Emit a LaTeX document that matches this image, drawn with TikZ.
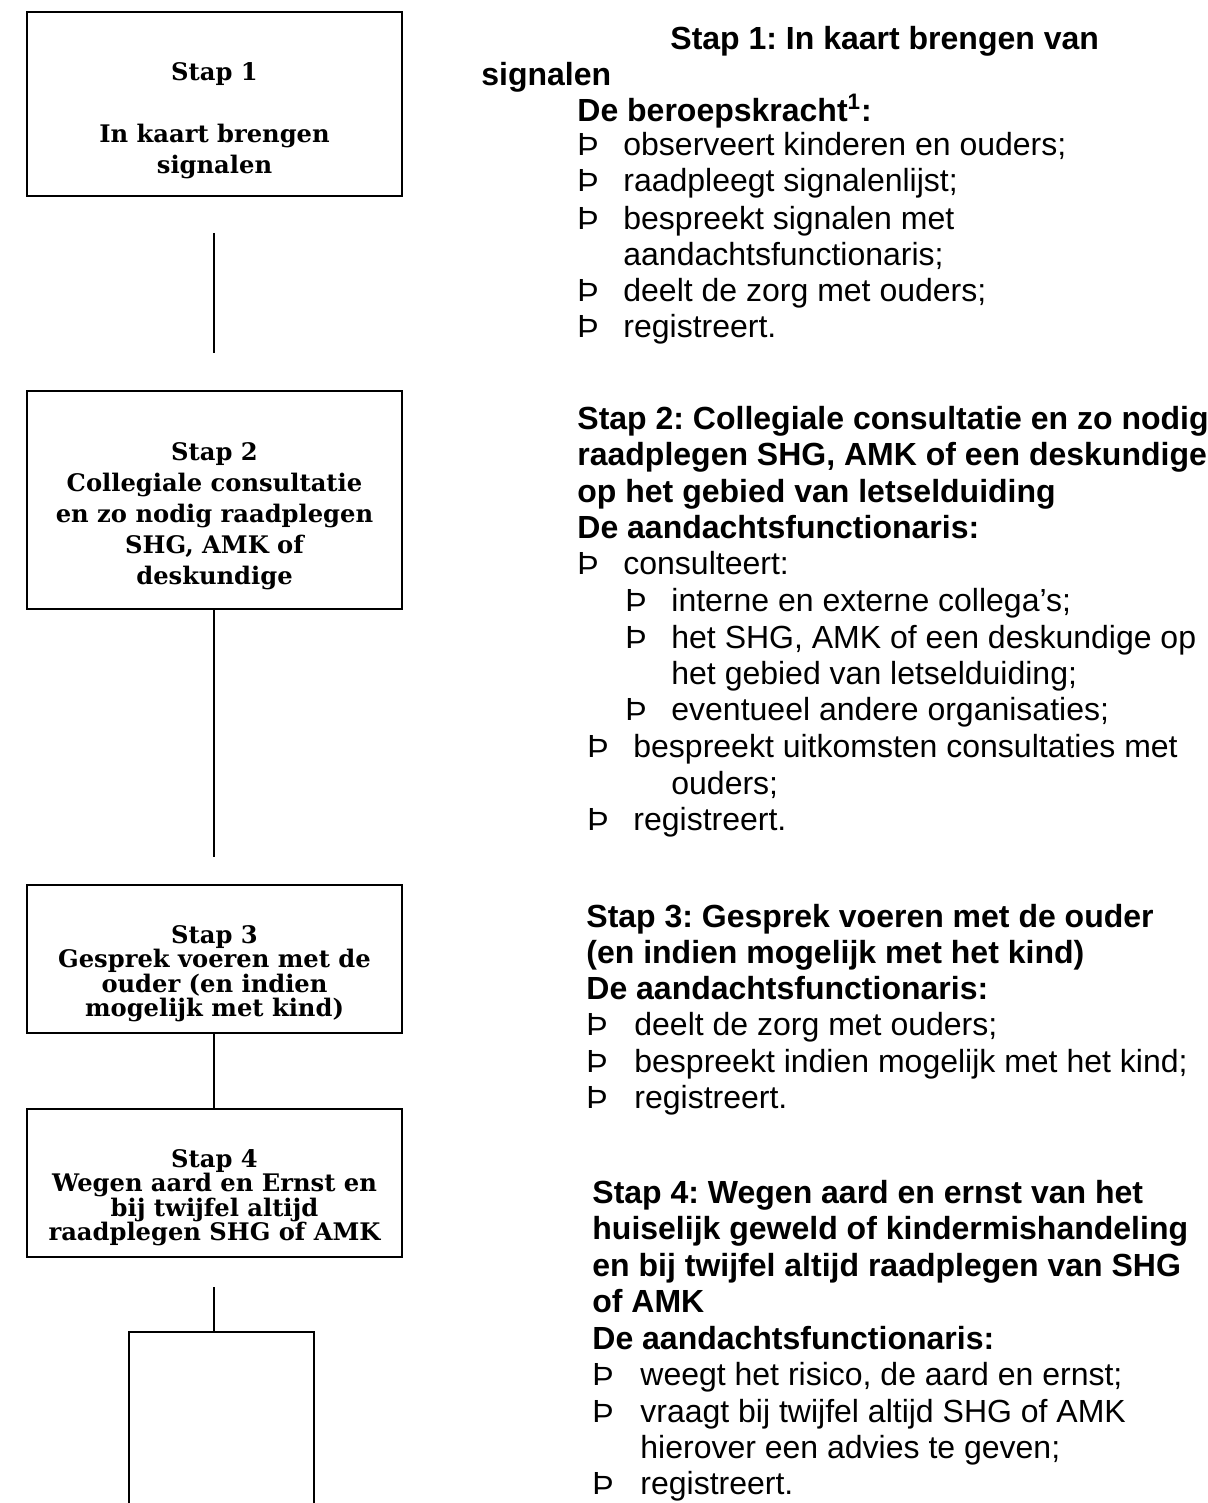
\documentclass[tikz,border=0pt]{standalone}
\usepackage{fontspec}
\setmainfont{Liberation Sans}
\newfontfamily\boxfont{DejaVu Serif}
\begin{document}
\frenchspacing
\begin{tikzpicture}[x=0.5pt,y=-0.5pt,
  stepbox/.style={draw, line width=1pt, inner sep=0pt},
  boxtxt/.style={font=\boxfont\bfseries\fontsize{12.1}{15.5}\selectfont, align=center, inner sep=0pt, anchor=north},
  boxtxtb/.style={boxtxt, font=\boxfont\bfseries\fontsize{12.1}{12.2}\selectfont},
  conn/.style={line width=0.8pt},
  hd/.style={font=\bfseries\fontsize{16}{18}\selectfont, anchor=base west, inner sep=0pt},
  tx/.style={font=\fontsize{16}{18}\selectfont, anchor=base west, inner sep=0pt},
]
\useasboundingbox (0,0) rectangle (1208,1503);
\clip (0,0) rectangle (1208,1503);
\fill[white] (0,0) rectangle (1208,1503);

% left boxes
\node[stepbox, minimum width=187.5pt, minimum height=92pt] (b1) at (214.5,104) {};
\node[stepbox, minimum width=187.5pt, minimum height=109pt] (b2) at (214.5,500) {};
\node[stepbox, minimum width=187.5pt, minimum height=74pt] (b3) at (214.5,959) {};
\node[stepbox, minimum width=187.5pt, minimum height=74pt] (b4) at (214.5,1183) {};
\node[stepbox, minimum width=92.5pt, minimum height=150pt, anchor=north] (b5) at (221.5,1331) {};

\node[boxtxt] (b1t) at (214.5,62) {Stap 1\\[15.5pt]In kaart brengen\\signalen};
\node[boxtxt] (b2t) at (214.5,442) {Stap 2\\Collegiale consultatie\\en zo nodig raadplegen\\SHG, AMK of\\deskundige};
\node[boxtxtb] (b3t) at (214.5,925) {Stap 3\\Gesprek voeren met de\\ouder (en indien\\mogelijk met kind)};
\node[boxtxtb] (b4t) at (214.5,1149) {Stap 4\\Wegen aard en Ernst en\\bij twijfel altijd\\raadplegen SHG of AMK};

% connectors
\coordinate (c1a) at (214,233);
\coordinate (c1b) at (214,353);
\coordinate (c2b) at (214,857);
\coordinate (c4a) at (214,1287);
\draw[conn] (c1a) -- (c1b);
\draw[conn] (c1a |- b2.south) -- (c2b);
\draw[conn] (c1a |- b3.south) -- (c1a |- b4.north);
\draw[conn] (c4a) -- (c4a |- b5.north);

% right column, step 1
\node[hd] (h1a) at (670,50) {Stap 1: In kaart brengen van};
\node[hd] (h1b) at (481,86) {signalen};
\node[hd] (h1c) at (577,122) {De beroepskracht\textsuperscript{1}:};
\node[tx] (p1a) at (577,156) {Þ}; \node[tx] (t1a) at (623,156) {observeert kinderen en ouders;};
\node[tx] (p1b) at (577,192) {Þ}; \node[tx] (t1b) at (623,192) {raadpleegt signalenlijst;};
\node[tx] (p1c) at (577,229) {Þ}; \node[tx] (t1c) at (623,229) {bespreekt signalen met};
\node[tx] (t1d) at (623,265) {aandachtsfunctionaris;};
\node[tx] (p1e) at (577,301) {Þ}; \node[tx] (t1e) at (623,301) {deelt de zorg met ouders;};
\node[tx] (p1f) at (577,337) {Þ}; \node[tx] (t1f) at (623,337) {registreert.};

% step 2
\node[hd] (h2a) at (577,429) {Stap 2: Collegiale consultatie en zo nodig};
\node[hd] (h2b) at (577,465) {raadplegen SHG, AMK of een deskundige};
\node[hd] (h2c) at (577,502) {op het gebied van letselduiding};
\node[hd] (h2d) at (577,538) {De aandachtsfunctionaris:};
\node[tx] (p2a) at (577,574) {Þ}; \node[tx] (t2a) at (623,574) {consulteert:};
\node[tx] (p2b) at (625,611) {Þ}; \node[tx] (t2b) at (671,611) {interne en externe collega’s;};
\node[tx] (p2c) at (625,648) {Þ}; \node[tx] (t2c) at (671,648) {het SHG, AMK of een deskundige op};
\node[tx] (t2d) at (671,684) {het gebied van letselduiding;};
\node[tx] (p2e) at (625,720) {Þ}; \node[tx] (t2e) at (671,720) {eventueel andere organisaties;};
\node[tx] (p2f) at (587,757) {Þ}; \node[tx] (t2f) at (633,757) {bespreekt uitkomsten consultaties met};
\node[tx] (t2g) at (671,794) {ouders;};
\node[tx] (p2h) at (587,830) {Þ}; \node[tx] (t2h) at (633,830) {registreert.};

% step 3
\node[hd] (h3a) at (586,927) {Stap 3: Gesprek voeren met de ouder};
\node[hd] (h3b) at (586,963) {(en indien mogelijk met het kind)};
\node[hd] (h3c) at (586,999) {De aandachtsfunctionaris:};
\node[tx] (p3a) at (586,1035) {Þ}; \node[tx] (t3a) at (634,1035) {deelt de zorg met ouders;};
\node[tx] (p3b) at (586,1072) {Þ}; \node[tx] (t3b) at (634,1072) {bespreekt indien mogelijk met het kind;};
\node[tx] (p3c) at (586,1108) {Þ}; \node[tx] (t3c) at (634,1108) {registreert.};

% step 4
\node[hd] (h4a) at (592,1203) {Stap 4: Wegen aard en ernst van het};
\node[hd] (h4b) at (592,1239) {huiselijk geweld of kindermishandeling};
\node[hd] (h4c) at (592,1276) {en bij twijfel altijd raadplegen van SHG};
\node[hd] (h4d) at (592,1312) {of AMK};
\node[hd] (h4e) at (592,1349) {De aandachtsfunctionaris:};
\node[tx] (p4a) at (592,1385) {Þ}; \node[tx] (t4a) at (640,1385) {weegt het risico, de aard en ernst;};
\node[tx] (p4b) at (592,1422) {Þ}; \node[tx] (t4b) at (640,1422) {vraagt bij twijfel altijd SHG of AMK};
\node[tx] (t4c) at (640,1458) {hierover een advies te geven;};
\node[tx] (p4d) at (592,1494) {Þ}; \node[tx] (t4d) at (640,1494) {registreert.};
\end{tikzpicture}
\end{document}
